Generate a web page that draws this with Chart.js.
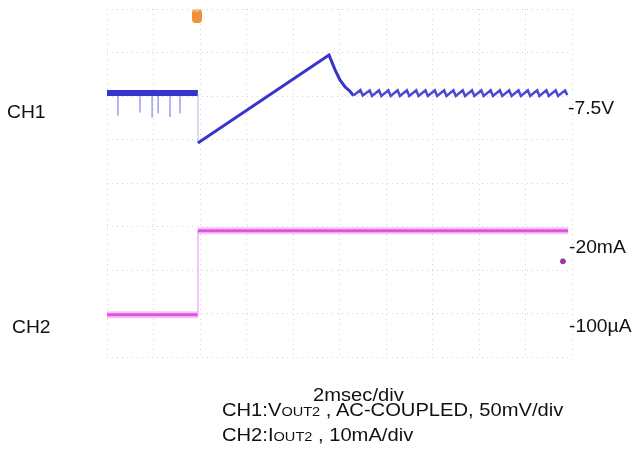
<!DOCTYPE html>
<html>
<head>
<meta charset="utf-8">
<script src="https://cdn.jsdelivr.net/npm/chart.js@4.4.1/dist/chart.umd.min.js"></script>
<style>
  body { margin: 0; background: #fff; }
  #wrap { position: relative; width: 635px; height: 450px; }
  #scope { position: absolute; left: 0; top: 0; }
  .lbl { position: absolute; font-family: "Liberation Sans", Arial, sans-serif; font-size: 18px; line-height: 18px; color: #111; white-space: nowrap; transform: scaleX(1.07); transform-origin: left center; }
  .wide { transform: scaleX(1.12); }
  .sc { font-size: 13px; }
</style>
</head>
<body>
<div id="wrap">
  <canvas id="scope" width="635" height="450"></canvas>
  <div class="lbl" style="left:7px;top:103px">CH1</div>
  <div class="lbl" style="left:12px;top:318px">CH2</div>
  <div class="lbl" style="left:568px;top:99px">-7.5V</div>
  <div class="lbl" style="left:569px;top:238px">-20mA</div>
  <div class="lbl" style="left:569px;top:317px">-100µA</div>
  <div class="lbl wide" style="left:313px;top:386px">2msec/div</div>
  <div class="lbl wide" style="left:222px;top:401px">CH1:V<span class="sc">OUT2</span> , AC-COUPLED, 50mV/div</div>
  <div class="lbl wide" style="left:222px;top:426px">CH2:I<span class="sc">OUT2</span> , 10mA/div</div>
</div>
<script>
// time in ms (2 ms/div, 10 div), level in divisions (8 div)
var ch1Times = [0, 3.91, 3.91, 9.55, 9.81, 10.02, 10.24, 10.45,
    10.60, 10.90, 11.00, 11.30, 11.40, 11.70, 11.80, 12.10, 12.20, 12.50,
    12.60, 12.90, 13.00, 13.30, 13.40, 13.70, 13.80, 14.10, 14.20, 14.50,
    14.60, 14.90, 15.00, 15.30, 15.40, 15.70, 15.80, 16.10, 16.20, 16.50,
    16.60, 16.90, 17.00, 17.30, 17.40, 17.70, 17.80, 18.10, 18.20, 18.50,
    18.60, 18.90, 19.00, 19.30, 19.40, 19.70, 19.80];
var ch1Levels = [6.07, 6.07, 4.92, 6.94, 6.60, 6.37, 6.21, 6.11,
    6.01, 6.14, 6.01, 6.13, 6.00, 6.13, 6.00, 6.13, 6.00, 6.13,
    6.00, 6.13, 6.00, 6.13, 6.00, 6.13, 6.00, 6.13, 6.00, 6.13,
    6.00, 6.13, 6.00, 6.13, 6.00, 6.13, 6.00, 6.13, 6.00, 6.13,
    6.00, 6.13, 6.00, 6.13, 6.00, 6.13, 6.00, 6.13, 6.00, 6.13,
    6.00, 6.13, 6.00, 6.13, 6.00, 6.13, 6.02];

var spikeTimes = [0.47, 1.42, 1.94, 2.20, 2.71, 3.14];
var spikeEnds = [5.55, 5.62, 5.50, 5.60, 5.52, 5.60];

var ch2Times = [0, 3.91, 3.91, 19.83];
var ch2Levels = [0.97, 0.97, 2.90, 2.90];

var triggerTime = 3.87, triggerLevel = 7.86;
var markTime = 19.61, markLevel = 2.2;

function pts(xs, ys) {
    var out = [];
    for (var i = 0; i < xs.length; i++) out.push({x: xs[i], y: ys[i]});
    return out;
}

var spikeData = [];
for (var i = 0; i < spikeTimes.length; i++) {
    spikeData.push({x: spikeTimes[i], y: 6.0});
    spikeData.push({x: spikeTimes[i], y: spikeEnds[i]});
    spikeData.push({x: spikeTimes[i], y: null});
}

// trigger flag icon
var flag = document.createElement('canvas');
flag.width = 10; flag.height = 15;
var fctx = flag.getContext('2d');
fctx.fillStyle = '#f0903a';
fctx.beginPath();
fctx.roundRect(0, 2, 10, 13, 3);
fctx.fill();
fctx.fillStyle = '#f6c28a';
fctx.fillRect(3, 0, 4, 4);

function isVertical(c) { return c.p0.parsed.x === c.p1.parsed.x; }

var ctx = document.getElementById("scope").getContext("2d");
var scopeChart = new Chart(ctx, {
    type: 'line',
    data: {
        datasets: [{
            label: 'spikes',
            data: spikeData,
            borderColor: 'rgba(120,120,225,0.45)',
            borderWidth: 1,
            pointRadius: 0,
            spanGaps: false
        }, {
            label: 'CH1',
            data: pts(ch1Times, ch1Levels),
            borderColor: '#3636cc',
            borderWidth: 3,
            pointRadius: 0,
            tension: 0,
            segment: {
                borderWidth: function (c) {
                    if (isVertical(c)) return 1;
                    if (c.p1.parsed.x <= 3.91) return 6;
                    return c.p0.parsed.x >= 10.5 ? 2.5 : 3;
                },
                borderColor: function (c) {
                    if (isVertical(c)) return 'rgba(150,150,230,0.25)';
                    return c.p0.parsed.x >= 10.5 ? '#4a4ad2' : undefined;
                }
            }
        }, {
            label: 'CH2 glow',
            data: pts(ch2Times, ch2Levels),
            borderColor: 'rgba(240,130,240,0.45)',
            borderWidth: 7,
            pointRadius: 0,
            segment: {
                borderColor: function (c) { return isVertical(c) ? 'rgba(0,0,0,0)' : undefined; }
            }
        }, {
            label: 'CH2',
            data: pts(ch2Times, ch2Levels),
            borderColor: '#d52fd5',
            borderWidth: 3,
            pointRadius: 0,
            segment: {
                borderWidth: function (c) { return isVertical(c) ? 1.5 : 3; },
                borderColor: function (c) { return isVertical(c) ? '#f3b3f3' : undefined; }
            }
        }, {
            label: 'trigger',
            data: [{x: triggerTime, y: triggerLevel}],
            showLine: false,
            pointStyle: flag,
            pointRadius: 5
        }, {
            label: 'marker',
            data: [{x: markTime, y: markLevel}],
            showLine: false,
            pointRadius: 2.5,
            backgroundColor: '#9a3a9a',
            borderColor: '#9a3a9a'
        }]
    },
    options: {
        responsive: false,
        animation: false,
        layout: {
            autoPadding: false,
            padding: {left: 107, right: 63, top: 9, bottom: 93}
        },
        plugins: {
            legend: {display: false},
            tooltip: {enabled: false}
        },
        scales: {
            x: {
                type: 'linear',
                min: 0,
                max: 20,
                ticks: {display: false, stepSize: 2},
                grid: {color: '#d2d2d2', drawTicks: false, lineWidth: 1},
                border: {display: false, dash: [1, 4]}
            },
            y: {
                type: 'linear',
                min: 0,
                max: 8,
                ticks: {display: false, stepSize: 1},
                grid: {color: '#d2d2d2', drawTicks: false, lineWidth: 1},
                border: {display: false, dash: [1, 4]}
            }
        }
    }
});
</script>
</body>
</html>
